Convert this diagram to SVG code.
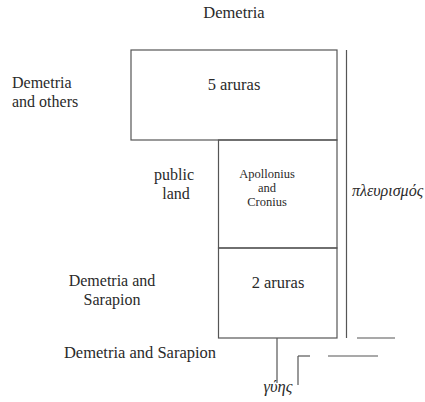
<svg xmlns="http://www.w3.org/2000/svg" width="425" height="402" viewBox="0 0 425 402">
<style>
.t{font-family:'Liberation Serif','Times New Roman',serif;font-size:16.5px;fill:#2a2a2a;text-anchor:middle}
.m{font-size:16px}
.sm{font-size:12.5px}
.l{text-anchor:start}
.g{font-style:italic}
.s{stroke:#555;stroke-width:1.2;fill:none}
</style>
<g id="connectors" class="s">
<line x1="346.5" y1="50" x2="346.5" y2="338"/>
<line x1="357" y1="338" x2="395" y2="338"/>
<line x1="298" y1="356" x2="310" y2="356"/>
<line x1="328" y1="356" x2="378" y2="356"/>
<line x1="298" y1="356" x2="298" y2="385"/>
<line x1="277" y1="338" x2="277" y2="383"/>
</g>
<g id="title"><text class="t" x="234" y="18">Demetria</text></g>
<g id="five"><rect class="s" x="131" y="50" width="206" height="90"/><text class="t" x="234" y="90">5 aruras</text></g>
<g id="apollonius"><rect class="s" x="218.5" y="140" width="118.5" height="108"/><text class="t sm" x="267" y="178">Apollonius</text><text class="t sm" x="267" y="192">and</text><text class="t sm" x="267" y="206">Cronius</text></g>
<g id="two"><rect class="s" x="218.5" y="248" width="118.5" height="90"/><text class="t" x="278" y="288">2 aruras</text></g>
<g id="others"><text class="t m l" x="12" y="88">Demetria</text><text class="t m l" x="12" y="106.5">and others</text></g>
<g id="public"><text class="t m" x="174" y="180">public</text><text class="t m" x="176" y="198.5">land</text></g>
<g id="pleur"><text class="t m l g" x="352" y="196">πλευρισμός</text></g>
<g id="ds1"><text class="t m" x="112" y="286">Demetria and</text><text class="t m" x="112" y="304.5">Sarapion</text></g>
<g id="ds2"><text class="t" x="140" y="358">Demetria and Sarapion</text></g>
<g id="gyes"><text class="t g" x="278" y="392">γύης</text></g>
</svg>
